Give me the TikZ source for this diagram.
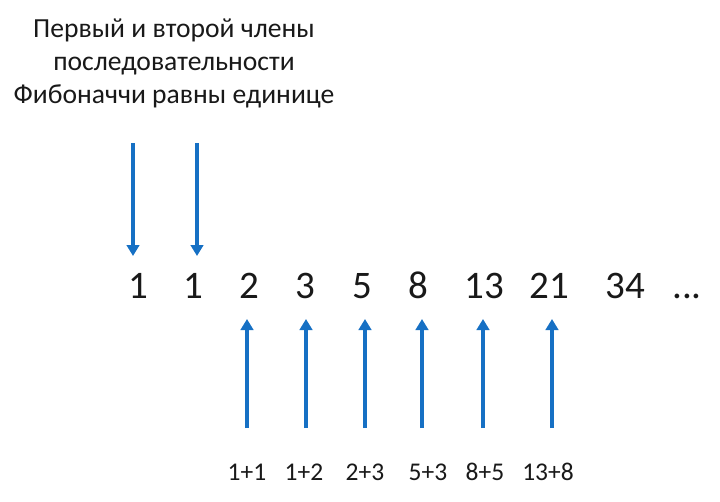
\documentclass[tikz,border=0pt]{standalone}
\usepackage{fontspec}
\setmainfont{Carlito}
\usetikzlibrary{arrows.meta}
\definecolor{arrowblue}{RGB}{22,112,196}
\definecolor{txt}{RGB}{25,25,25}
\tikzset{
  arr/.style={draw=arrowblue, line width=3.6pt, -{Triangle[width=12.5pt,length=11pt]}},
  title/.style={anchor=base, inner sep=0pt, text=txt, font=\fontsize{27.6}{33}\selectfont},
  num/.style={anchor=base, inner sep=0pt, text=txt, font=\fontsize{39}{46}\selectfont},
  sumlbl/.style={anchor=base, inner sep=0pt, text=txt, font=\fontsize{25.5}{30}\selectfont},
}
\begin{document}
\begin{tikzpicture}[x=1pt,y=-1pt]
\useasboundingbox[fill=white] (0,0) rectangle (720,501);
% title
\node[title] (t1) at (174,37) {Первый и второй члены};
\node[title] (t2) at (174,70) {последовательности};
\node[title] (t3) at (174,103) {Фибоначчи равны единице};
% numbers
\node[num] (n1) at (138,298) {1};
\node[num] (n2) at (193,298) {1};
\node[num] (n3) at (249,298) {2};
\node[num] (n4) at (305,298) {3};
\node[num] (n5) at (362,298) {5};
\node[num] (n6) at (418,298) {8};
\node[num] (n7) at (484,298) {13};
\node[num] (n8) at (549,298) {21};
\node[num] (n9) at (625,298) {34};
\node[num] (n10) at (687,298) {...};
% sums
\node[sumlbl] (s1) at (247,480) {1+1};
\node[sumlbl] (s2) at (304,480) {1+2};
\node[sumlbl] (s3) at (365,480) {2+3};
\node[sumlbl] (s4) at (428,480) {5+3};
\node[sumlbl] (s5) at (485,480) {8+5};
\node[sumlbl] (s6) at (548,480) {13+8};
% down arrows
\coordinate (da1) at (133,143); \coordinate (db1) at (133,256);
\coordinate (da2) at (197,143); \coordinate (db2) at (197,256);
\draw[arr] (da1) -- (db1);
\draw[arr] (da2) -- (db2);
% up arrows
\foreach \i/\x in {1/247,2/306,3/365,4/422,5/483,6/552}{
  \coordinate (ua\i) at (\x,428);
  \coordinate (ub\i) at (\x,319);
  \draw[arr] (ua\i) -- (ub\i);
}
\end{tikzpicture}
\end{document}
